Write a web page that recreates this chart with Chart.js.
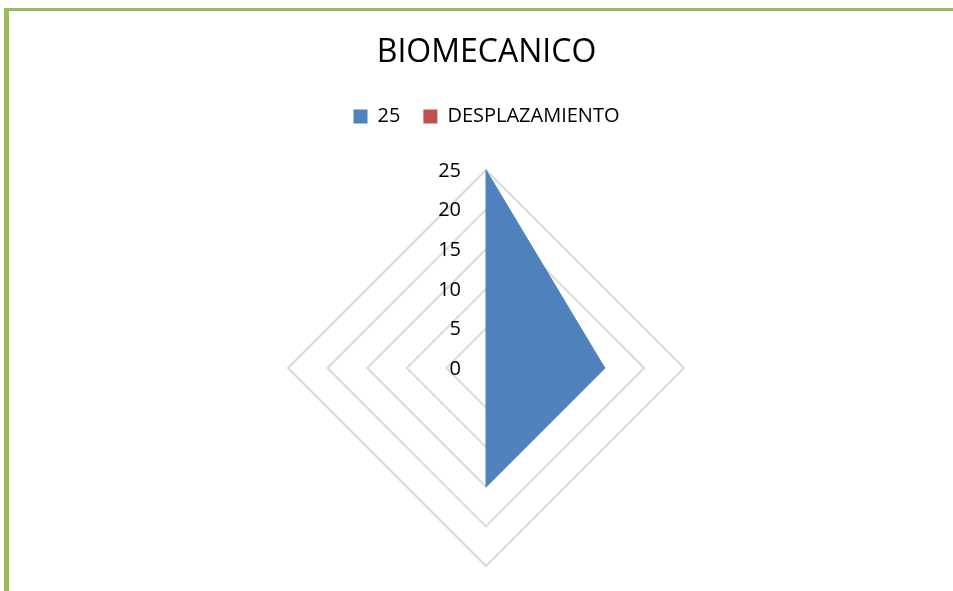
<!DOCTYPE html>
<html>
<head>
<meta charset="utf-8">
<script src="https://cdn.jsdelivr.net/npm/chart.js@4"></script>
<style>
  html, body { margin: 0; padding: 0; background: #fff; }
  body { width: 953px; height: 591px; position: relative; overflow: hidden; }
  .frame {
    position: absolute; left: 4px; top: 8px; right: 0; bottom: 0;
    border-left: 5px solid #9BBB59; border-top: 3px solid #9BBB59;
  }
  .wrap { position: absolute; left: 0; top: 0; width: 953px; height: 591px; }
</style>
</head>
<body>
<div class="frame"></div>
<div class="wrap"><canvas id="radar" width="953" height="591"></canvas></div>
<script>
// chart data
const categories = ['1', '2', '3', '4'];
const seriesNames = ['25', 'DESPLAZAMIENTO'];
const seriesBlue = [25, 15, 15, 0];
const seriesRed = [0, 0, 0, 0];
const tickValues = [0, 5, 10, 15, 20, 25];

const colors = {
  blue: '#4F81BD',
  red: '#C0504D',
  grid: '#D9D9D9',
  text: '#000000'
};

const FONT = "'Open Sans', 'Liberation Sans', sans-serif";

// extra room under the legend before the plot starts
const legendGap = {
  id: 'legendGap',
  beforeInit(chart) {
    const fit = chart.legend.fit;
    chart.legend.fit = function () {
      fit.call(this);
      this.height += 33;
    };
  }
};

// draws the value labels to the left of the vertical axis, like Excel does
const tickLabelPlugin = {
  id: 'tickLabels',
  afterDraw(chart) {
    const scale = chart.scales.r;
    const ctx = chart.ctx;
    ctx.save();
    ctx.font = `20px ${FONT}`;
    ctx.fillStyle = colors.text;
    ctx.textAlign = 'right';
    ctx.textBaseline = 'middle';
    tickValues.forEach(v => {
      const d = scale.getDistanceFromCenterForValue(v);
      ctx.fillText(String(v), scale.xCenter - 25, scale.yCenter - d + 1);
    });
    ctx.restore();
  }
};

new Chart(document.getElementById('radar'), {
  type: 'radar',
  data: {
    labels: categories,
    datasets: [
      {
        label: seriesNames[0],
        data: seriesBlue,
        backgroundColor: colors.blue,
        borderColor: colors.blue,
        borderWidth: 1,
        fill: true,
        pointRadius: 0
      },
      {
        label: seriesNames[1],
        data: seriesRed,
        backgroundColor: colors.red,
        borderColor: colors.red,
        borderWidth: 0,
        fill: true,
        pointRadius: 0
      }
    ]
  },
  plugins: [legendGap, tickLabelPlugin],
  options: {
    responsive: false,
    animation: false,
    devicePixelRatio: 1,
    layout: { padding: { top: 0, bottom: 24, left: 20, right: 0 } },
    plugins: {
      title: {
        display: true,
        text: 'BIOMECANICO',
        color: colors.text,
        font: { family: FONT, size: 32, weight: 'normal' },
        padding: { top: 34, bottom: 11 }
      },
      legend: {
        position: 'top',
        labels: {
          color: colors.text,
          font: { family: FONT, size: 20 },
          boxWidth: 14,
          boxHeight: 14,
          padding: 23,
          generateLabels(chart) {
            return chart.data.datasets.map((ds, i) => ({
              text: ds.label,
              fillStyle: ds.backgroundColor,
              strokeStyle: ds.backgroundColor,
              lineWidth: 0,
              hidden: false,
              datasetIndex: i,
              fontColor: colors.text
            }));
          }
        }
      },
      tooltip: { enabled: false }
    },
    scales: {
      r: {
        min: 0,
        max: 25,
        angleLines: { display: false },
        grid: { color: colors.grid, lineWidth: 2 },
        pointLabels: { display: false },
        ticks: { display: false, stepSize: 5 }
      }
    }
  }
});
</script>
</body>
</html>
